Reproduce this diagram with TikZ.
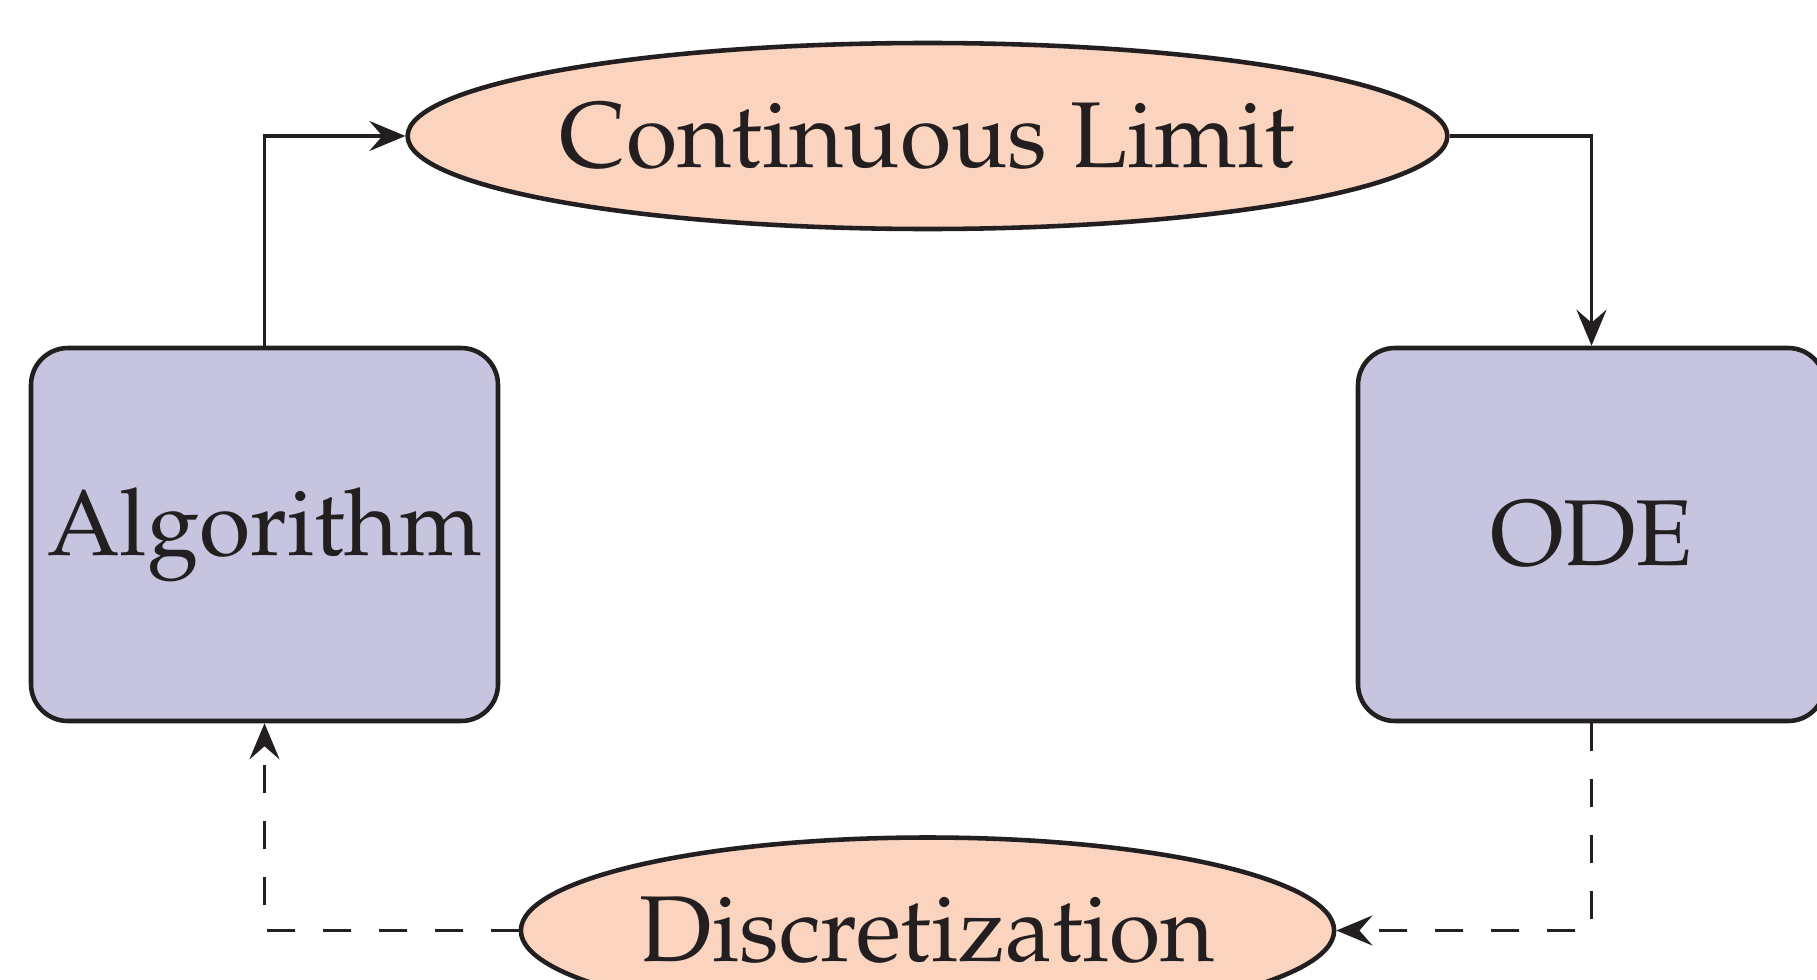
\documentclass[tikz,border=0pt]{standalone}
\usepackage[T1]{fontenc}
\usepackage{mathpazo}
\usetikzlibrary{shapes.geometric,arrows.meta}
\definecolor{boxfill}{RGB}{199,196,224}
\definecolor{ellfill}{RGB}{251,212,192}
\definecolor{ink}{RGB}{35,31,32}
\tikzset{
  stepbox/.style={draw=ink, line width=1.3pt, fill=boxfill, rounded corners=0.37cm,
    minimum width=4.67cm, minimum height=3.73cm, inner sep=0pt, text=ink,
    font=\fontsize{26.6}{32}\selectfont},
  ellnode/.style={ellipse, draw=ink, line width=1.3pt, fill=ellfill, minimum height=1.86cm,
    inner sep=0pt, text=ink, font=\fontsize{26.6}{32}\selectfont},
  conn/.style={draw=ink, line width=1.1pt, -{Stealth[length=0.36cm,width=0.3cm,inset=0.13cm]}},
  dconn/.style={conn, dash pattern=on 0.28cm off 0.28cm}
}
\begin{document}
\begin{tikzpicture}
\useasboundingbox (0,0) rectangle (18.17,-9.79);
\node[stepbox] (alg) at (2.645,-5.345) {Algorithm};
\node[stepbox] (ode) at (15.915,-5.345) {ODE};
\node[ellnode, minimum width=10.39cm] (cl) at (9.275,-1.36) {Continuous Limit};
\node[ellnode, minimum width=8.13cm] (disc) at (9.275,-9.305) {Discretization};
\draw[conn] (alg.north) |- (cl.west);
\draw[conn] (cl.east) -| (ode.north);
\draw[dconn] (ode.south) |- (disc.east);
\draw[dconn] (disc.west) -| (alg.south);
\end{tikzpicture}
\end{document}
